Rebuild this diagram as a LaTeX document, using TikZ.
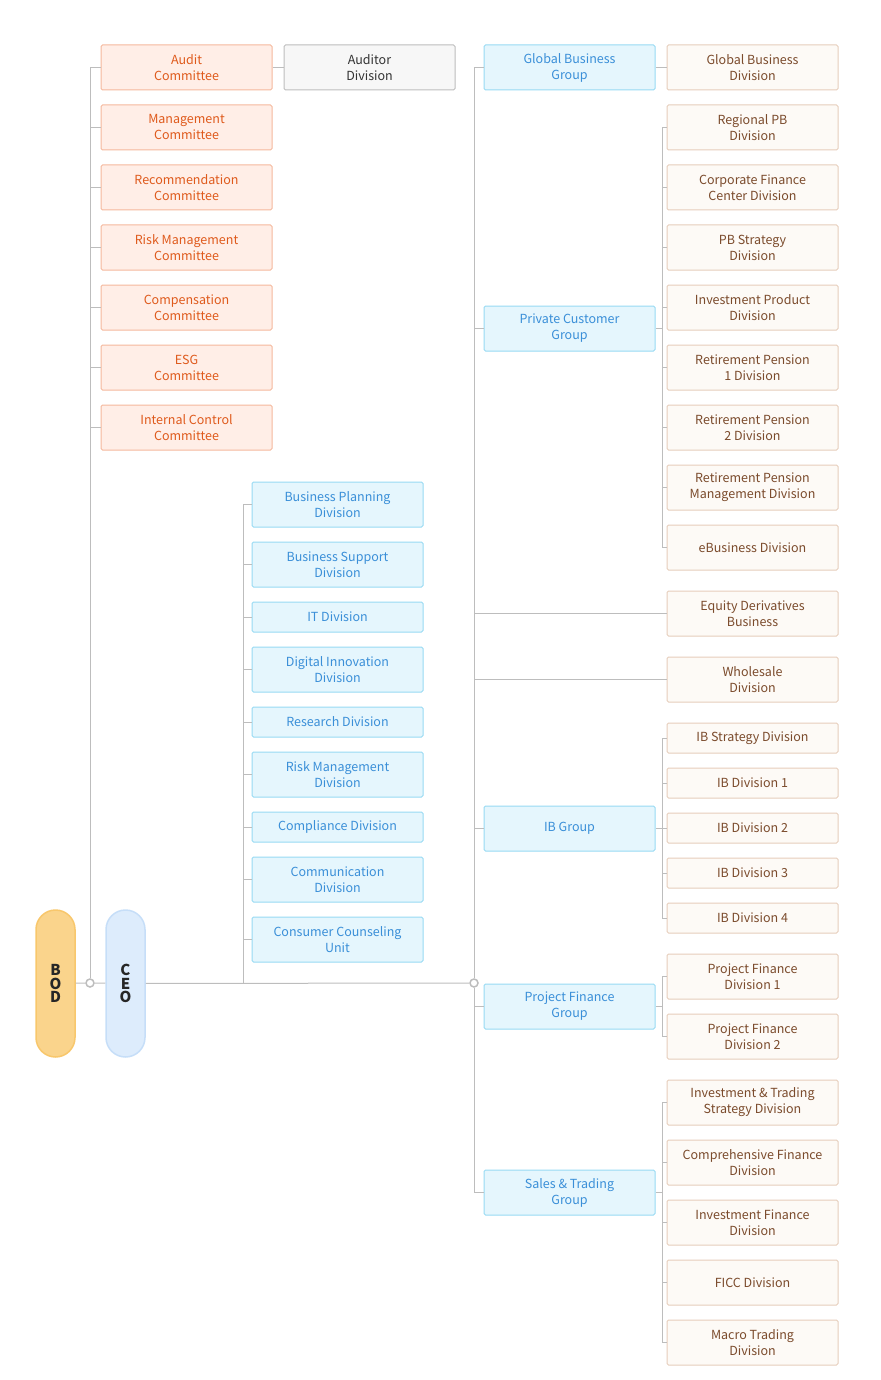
\documentclass[tikz,border=0pt]{standalone}
\usepackage{fontspec}
\setmainfont{Noto Sans CJK KR}
\usetikzlibrary{positioning}

\definecolor{linegray}{HTML}{BDBDBD}
\definecolor{cmtefill}{HTML}{FFEEE7}
\definecolor{cmteline}{HTML}{F5B89D}
\definecolor{cmtetext}{HTML}{DF5A1C}
\definecolor{audfill}{HTML}{F7F7F7}
\definecolor{audline}{HTML}{BDBDBD}
\definecolor{audtext}{HTML}{333333}
\definecolor{bluefill}{HTML}{E5F6FD}
\definecolor{blueline}{HTML}{97DAF3}
\definecolor{bluetext}{HTML}{3A8FD8}
\definecolor{creamfill}{HTML}{FDFAF6}
\definecolor{creamline}{HTML}{E6CDBB}
\definecolor{creamtext}{HTML}{7B4B2C}
\definecolor{bodfill}{HTML}{FAD48C}
\definecolor{bodline}{HTML}{F8C76C}
\definecolor{ceofill}{HTML}{DDECFC}
\definecolor{ceoline}{HTML}{C6DEF8}

\tikzset{
	box/.style={draw, rounded corners=1.5pt, line width=1pt, minimum width=171pt,
	            minimum height=45pt, inner sep=0pt, align=center,
	            font=\fontsize{12.5}{16}\selectfont},
	slim/.style={minimum height=30pt},
	cmte/.style={box, fill=cmtefill, draw=cmteline, text=cmtetext},
	audit/.style={box, fill=audfill, draw=audline, text=audtext},
	staff/.style={box, fill=bluefill, draw=blueline, text=bluetext},
	grp/.style={box, fill=bluefill, draw=blueline, text=bluetext},
	divn/.style={box, fill=creamfill, draw=creamline, text=creamtext},
	pill/.style={draw, rounded corners=19.5pt, line width=1.5pt, minimum width=39pt,
	             minimum height=147pt, inner sep=0pt, align=center,
	             font=\bfseries\fontsize{15}{14}\selectfont, text=black!85},
	link/.style={draw=linegray, line width=1pt},
	dot/.style={circle, draw=linegray, fill=white, line width=1.5pt,
	            minimum size=8pt, inner sep=0pt}
}

\begin{document}
\begin{tikzpicture}[x=1pt, y=-1pt]
	\useasboundingbox (0,0) rectangle (880,1380);

	% board and ceo
	\node[pill, fill=bodfill, draw=bodline] (bod) at (55.5,983.5) {B\\[-0.5pt]O\\[-0.5pt]D};
	\node[pill, fill=ceofill, draw=ceoline] (ceo) at (125.5,983.5) {C\\[-0.5pt]E\\[-0.5pt]O};
	\node[dot] (j1) at (90,983) {};
	\node[dot] (j2) at (474,983) {};
	\coordinate (sj) at (243,983);

	% committees
	\begin{scope}[every node/.style={cmte}]
		\node (audit) at (186.5,67.5) {Audit\\Committee};
		\node (mgmt) at (186.5,127.5) {Management\\Committee};
		\node (recom) at (186.5,187.5) {Recommendation\\Committee};
		\node (risk) at (186.5,247.5) {Risk Management\\Committee};
		\node (comp) at (186.5,307.5) {Compensation\\Committee};
		\node (esg) at (186.5,367.5) {ESG\\Committee};
		\node (ictrl) at (186.5,427.5) {Internal Control\\Committee};
	\end{scope}
	\node[audit] (auditor) at (369.5,67.5) {Auditor\\Division};

	% staff divisions under ceo
	\begin{scope}[every node/.style={staff}]
		\node (bplan) at (337.5,504.5) {Business Planning\\Division};
		\node (bsup) at (337.5,564.5) {Business Support\\Division};
		\node[slim] (it) at (337.5,617) {IT Division};
		\node (digi) at (337.5,669.5) {Digital Innovation\\Division};
		\node[slim] (research) at (337.5,722) {Research Division};
		\node (riskdiv) at (337.5,774.5) {Risk Management\\Division};
		\node[slim] (compl) at (337.5,827) {Compliance Division};
		\node (comm) at (337.5,879.5) {Communication\\Division};
		\node (ccu) at (337.5,939.5) {Consumer Counseling\\Unit};
	\end{scope}

	% groups
	\begin{scope}[every node/.style={grp}]
		\node (gbg) at (569.5,67.5) {Global Business\\Group};
		\node (pcg) at (569.5,328.5) {Private Customer\\Group};
		\node (ibg) at (569.5,828.5) {IB Group};
		\node (pfg) at (569.5,1006.5) {Project Finance\\Group};
		\node (stg) at (569.5,1192.5) {Sales \& Trading\\Group};
	\end{scope}

	% divisions
	\begin{scope}[every node/.style={divn}]
		\node (gbd) at (752.5,67.5) {Global Business\\Division};
		\node (rpb) at (752.5,127.5) {Regional PB\\Division};
		\node (cfc) at (752.5,187.5) {Corporate Finance\\Center Division};
		\node (pbs) at (752.5,247.5) {PB Strategy\\Division};
		\node (ipd) at (752.5,307.5) {Investment Product\\Division};
		\node (rp1) at (752.5,367.5) {Retirement Pension\\1 Division};
		\node (rp2) at (752.5,427.5) {Retirement Pension\\2 Division};
		\node (rpm) at (752.5,487.5) {Retirement Pension\\Management Division};
		\node (ebiz) at (752.5,547.5) {eBusiness Division};
		\node (eqd) at (752.5,613.5) {Equity Derivatives\\Business};
		\node (whole) at (752.5,679.5) {Wholesale\\Division};
		\node[slim] (ibs) at (752.5,738) {IB Strategy Division};
		\node[slim] (ib1) at (752.5,783) {IB Division 1};
		\node[slim] (ib2) at (752.5,828) {IB Division 2};
		\node[slim] (ib3) at (752.5,873) {IB Division 3};
		\node[slim] (ib4) at (752.5,918) {IB Division 4};
		\node (pf1) at (752.5,976.5) {Project Finance\\Division 1};
		\node (pf2) at (752.5,1036.5) {Project Finance\\Division 2};
		\node (its) at (752.5,1102.5) {Investment \& Trading\\Strategy Division};
		\node (cfd) at (752.5,1162.5) {Comprehensive Finance\\Division};
		\node (ifd) at (752.5,1222.5) {Investment Finance\\Division};
		\node (ficc) at (752.5,1282.5) {FICC Division};
		\node (mtd) at (752.5,1342.5) {Macro Trading\\Division};
	\end{scope}

	% junctions of the group branches
	\coordinate (pcgj) at (662,328.5);
	\coordinate (ibgj) at (662,828.5);
	\coordinate (pfgj) at (662,1006.5);
	\coordinate (stgj) at (662,1192.5);

	% connectors
	\begin{scope}[every path/.style={link}]
		\path (bod) -- (j1);
		\path (j1) -- (ceo);
		\path (ceo) -- (j2);
		\path (audit) -- (auditor);
		\foreach \n in {audit,mgmt,recom,risk,comp,esg,ictrl}
			\path (j1.north) |- (\n.west);
		\foreach \n in {bplan,bsup,it,digi,research,riskdiv,compl,comm,ccu}
			\path (sj) |- (\n.west);
		\foreach \n in {gbg,pcg,eqd,whole,ibg}
			\path (j2.north) |- (\n.west);
		\foreach \n in {pfg,stg}
			\path (j2.south) |- (\n.west);
		\path (gbg) -- (gbd);
		\path (pcg) -- (pcgj);
		\path (ibg) -- (ibgj);
		\path (pfg) -- (pfgj);
		\path (stg) -- (stgj);
		\foreach \n in {rpb,cfc,pbs,ipd,rp1,rp2,rpm,ebiz}
			\path (pcgj) |- (\n.west);
		\foreach \n in {ibs,ib1,ib2,ib3,ib4}
			\path (ibgj) |- (\n.west);
		\foreach \n in {pf1,pf2}
			\path (pfgj) |- (\n.west);
		\foreach \n in {its,cfd,ifd,ficc,mtd}
			\path (stgj) |- (\n.west);
	\end{scope}
\end{tikzpicture}
\end{document}
